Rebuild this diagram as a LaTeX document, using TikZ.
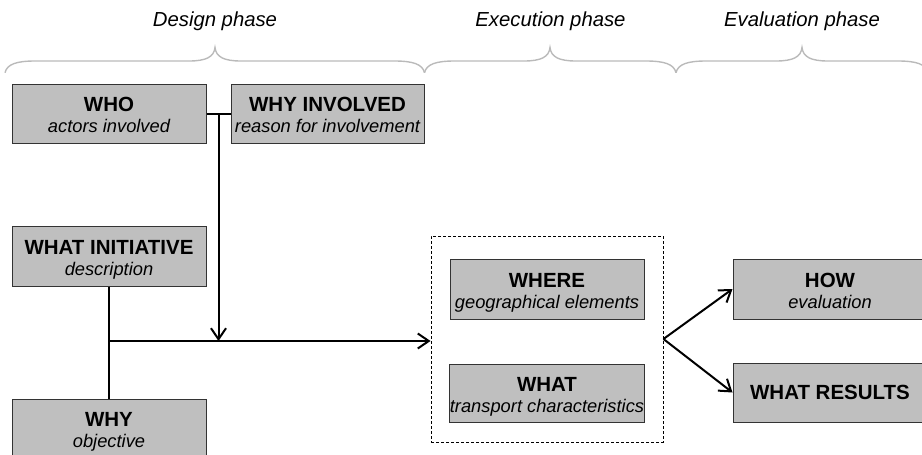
\documentclass[tikz,border=0pt]{standalone}
\usepackage{fontspec}
\setmainfont{Liberation Sans}
\usetikzlibrary{arrows.meta}
\newcommand\phbrace[3]{%
  \draw[bracestyle] (#1,72.7) .. controls (#1+2,64) and (#1+12,61) .. (#1+30,61)
    -- (#2-26,61) .. controls (#2-9,61) and (#2-1,57) .. (#2,47.5)
    .. controls (#2+1,57) and (#2+9,61) .. (#2+26,61)
    -- (#3-30,61) .. controls (#3-12,61) and (#3-2,64) .. (#3,72.7);}
\tikzset{
  bracestyle/.style={draw=black!27, line width=1.4pt},
  phaselabel/.style={anchor=base, inner sep=0pt, font=\fontsize{20.3}{22}\selectfont\itshape},
  gbox/.style={draw=black!80, line width=1pt, fill=black!25, inner sep=0pt,
    minimum width=194pt, minimum height=59pt, font=\fontsize{20.5}{21}\selectfont},
  conn/.style={line width=2pt, black},
  arr/.style={conn, -{Straight Barb[length=11pt, width=15pt]}},
  groupbox/.style={draw=black, line width=0.9pt, dash pattern=on 3pt off 2pt,
    minimum width=232pt, minimum height=206pt, inner sep=0pt}
}
\newcommand\sbt[1]{{\fontsize{18.3}{21}\selectfont\itshape #1}}
\newcommand\twol[2]{\raisebox{0pt}[22.7pt][26.3pt]{\vtop{\baselineskip=21pt\halign{\hfil##\hfil\cr\textbf{#1}\cr\sbt{#2}\cr}}}}
\newcommand\onel[1]{\raisebox{0pt}[14.7pt][0pt]{\textbf{#1}}}
\begin{document}
\begin{tikzpicture}[x=1pt, y=-1pt]
\useasboundingbox (0,0) rectangle (922,455);
\clip (0,0) rectangle (922,455);
% phase labels
\node[phaselabel] (ld) at (215,27) {Design phase};
\node[phaselabel] (le) at (550.5,27) {Execution phase};
\node[phaselabel] (lv) at (802,27) {Evaluation phase};
% braces
\phbrace{5}{215}{424.5}
\phbrace{424.5}{550}{676}
\phbrace{676}{802}{928}
% boxes
\node[gbox] (who) at (109,113.5) {\twol{WHO}{actors involved}};
\node[gbox, minimum width=193pt] (whyinv) at (327.5,113.5) {\twol{WHY INVOLVED}{reason for involvement}};
\node[gbox, minimum height=60pt] (wi) at (109,256) {\twol{WHAT INITIATIVE}{description}};
\node[gbox] (why) at (109,428.5) {\twol{WHY}{objective}};
\node[groupbox] (grp) at (547,339) {};
\node[gbox, minimum height=60pt] (where) at (547,289) {\twol{WHERE}{geographical elements}};
\node[gbox, minimum height=58pt] (what) at (547,393) {\twol{WHAT}{transport characteristics}};
\node[gbox, minimum height=60pt] (how) at (830,289) {\twol{HOW}{evaluation}};
\node[gbox] (res) at (830,392.5) {\onel{WHAT RESULTS}};
% connectors
\coordinate (tj) at (218.5,113.5);
\coordinate (mj) at (109,341);
\draw[conn] (who.east) -- (whyinv.west);
\draw[arr] (tj) -- (tj |- mj);
\draw[conn] (wi.south) -- (why.north);
\draw[arr] (mj) -- (mj -| grp.west);
\draw[arr] (grp.east) -- (how.west);
\draw[arr] (grp.east) -- (res.west);
\end{tikzpicture}
\end{document}
